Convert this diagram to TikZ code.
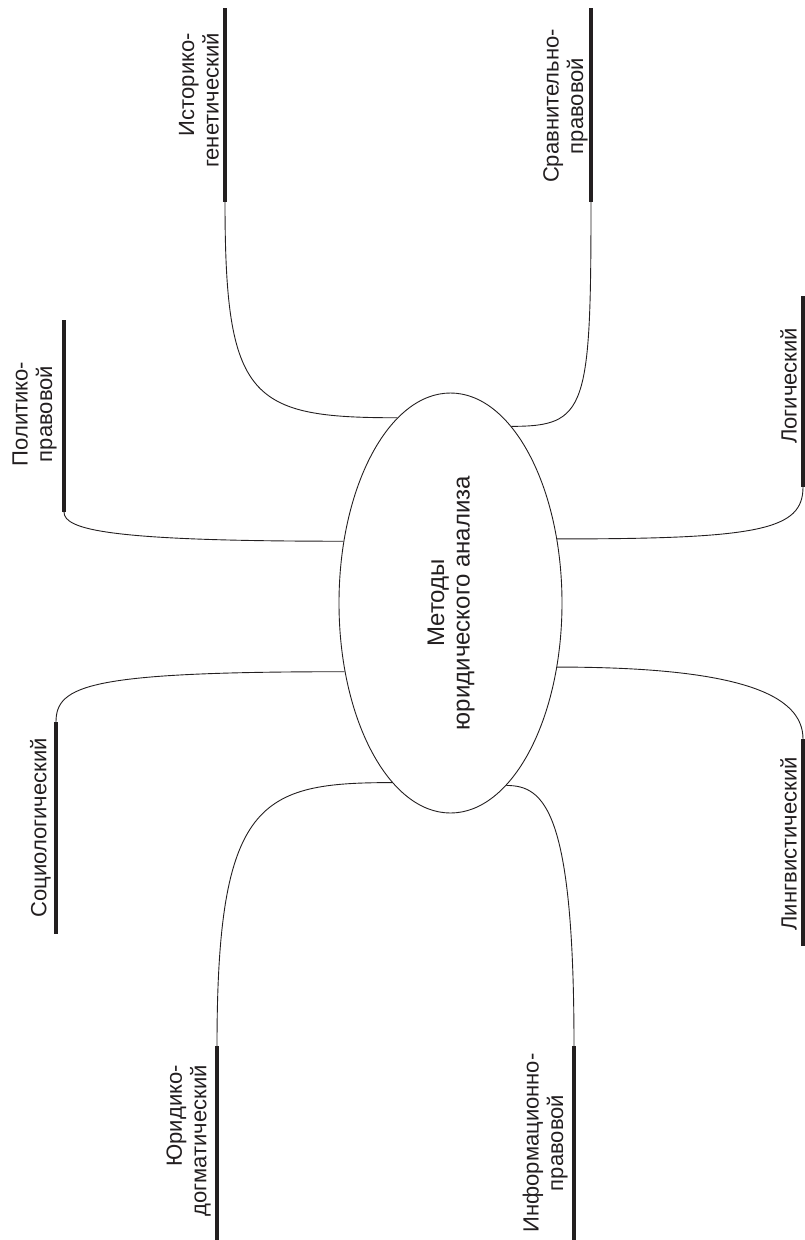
\documentclass[tikz,border=0pt]{standalone}
\usepackage{fontspec}
\setmainfont{Liberation Sans}
\usetikzlibrary{shapes.geometric}
\definecolor{ink}{HTML}{231F20}
\begin{document}
\begin{tikzpicture}[x=1pt,y=-1pt,
  barline/.style={line width=4pt, draw=ink},
  conn/.style={line width=0.9pt, draw=ink},
  lbl/.style={rotate=90, inner sep=0pt, text=ink, font=\fontsize{22}{24.5}\selectfont},
  hub/.style={ellipse, draw=ink, line width=0.9pt, inner sep=0pt, minimum width=223pt, minimum height=420pt}]
\useasboundingbox (0,0) rectangle (805,1240);

% central ellipse
\node[hub] (ell) at (450.5,603) {};
\node[rotate=90, align=center, inner sep=0pt, text=ink, font=\fontsize{24}{25.5}\selectfont] (ctext) at (451,603) {Методы\\юридического анализа};

% bar end points
\coordinate (istT) at (225,8);    \coordinate (istB) at (225,202);
\coordinate (srvT) at (591,8);    \coordinate (srvB) at (591,202);
\coordinate (polT) at (64,320);   \coordinate (polB) at (64,512);
\coordinate (logT) at (803,296);  \coordinate (logB) at (803,487);
\coordinate (socT) at (56,722);   \coordinate (socB) at (56,934);
\coordinate (lngT) at (803,739);  \coordinate (lngB) at (803,946);
\coordinate (yurT) at (217,1046); \coordinate (yurB) at (217,1240);
\coordinate (infT) at (574,1046); \coordinate (infB) at (574,1240);

% bars
\draw[barline] (istT) -- (istB);
\draw[barline] (srvT) -- (srvB);
\draw[barline] (polT) -- (polB);
\draw[barline] (logT) -- (logB);
\draw[barline] (socT) -- (socB);
\draw[barline] (lngT) -- (lngB);
\draw[barline] (yurT) -- (yurB);
\draw[barline] (infT) -- (infB);

% labels
\node[lbl, anchor=south east, align=right] (istL) at (219,33) {Историко-\\генетический};
\node[lbl, anchor=south, align=center] (srvL) at (588,106) {Сравнительно-\\правовой};
\node[lbl, anchor=south, align=center] (polL) at (57,414) {Политико-\\правовой};
\node[lbl, anchor=south] (logL) at (797,386) {Логический};
\node[lbl, anchor=south] (socL) at (51,828) {Социологический};
\node[lbl, anchor=south] (lngL) at (797,844) {Лингвистический};
\node[lbl, anchor=south east, align=right] (yurL) at (211,1065) {Юридико-\\догматический};
\node[lbl, anchor=south, align=center] (infL) at (568,1143) {Информационно-\\правовой};

% connectors
\draw[conn] (istB) .. controls +(0,198) and +(-147,0) .. (ell.106);
\draw[conn] (srvB) .. controls +(0,208) and +(75,0) .. (ell.71.7);
\draw[conn] (polB) .. controls +(0,18) and +(-233,0) .. (ell.150.1);
\draw[conn] (logB) .. controls +(0,43) and +(203,0) .. (ell.31.3);
\draw[conn] (socT) .. controls +(0,-37) and +(-255,0) .. (ell.213.2);
\draw[conn] (lngT) .. controls +(0,-44) and +(184,0) .. (ell.-31.7);
\draw[conn] (yurT) .. controls +(0,-246) and +(-132,0) .. (ell.252);
\draw[conn] (infT) .. controls +(0,-236) and +(38,0) .. (ell.287.5);
\end{tikzpicture}
\end{document}
